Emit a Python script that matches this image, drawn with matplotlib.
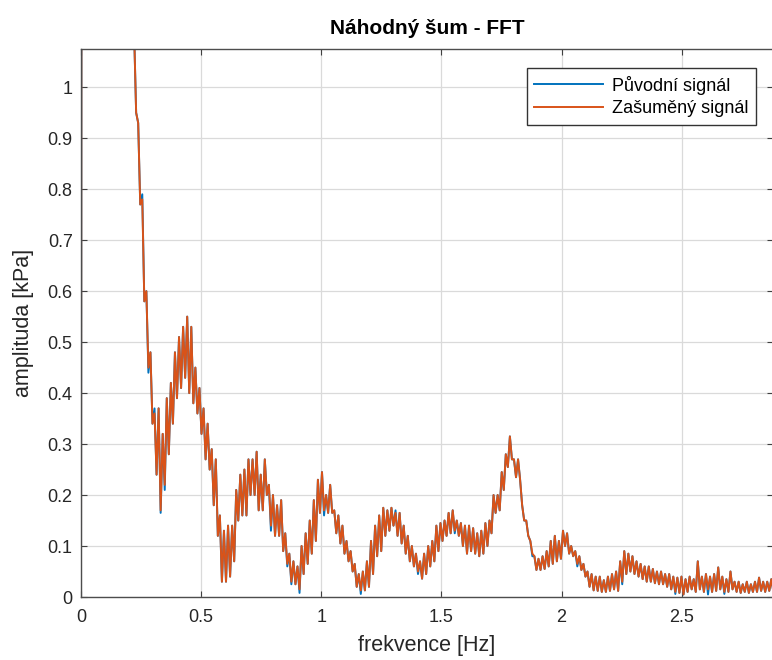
import matplotlib
matplotlib.use("Agg")
import numpy as np
import matplotlib.pyplot as plt


# -------------------------
# Data
# -------------------------
DF = 0.0085  # Hz, spacing of the FFT bins

# noisy signal amplitude [kPa], one value per bin (values above 1.075 are off-chart)
zasumeny = [
    0.0, 6.2, 4.6, 3.9, 3.4, 3.0, 2.7, 2.5, 2.3, 2.15, 2.0, 1.9,
    1.8, 1.72, 1.64, 1.57, 1.5, 1.44, 1.38, 1.33, 1.28, 1.23, 1.19, 1.15,
    1.13, 1.12,
    1.11, 0.95, 0.93, 0.77, 0.78, 0.58, 0.60, 0.45, 0.48, 0.34, 0.36, 0.24,
    0.37, 0.17, 0.32, 0.22, 0.39, 0.28, 0.42, 0.34, 0.48, 0.39, 0.51, 0.41,
    0.53, 0.43, 0.55, 0.40, 0.53, 0.38, 0.45, 0.36, 0.41, 0.32, 0.37, 0.27,
    0.34, 0.25, 0.29, 0.18, 0.27, 0.12, 0.16, 0.03, 0.13, 0.03, 0.14, 0.04,
    0.14, 0.07, 0.21, 0.15, 0.24, 0.16, 0.25, 0.16, 0.27, 0.20, 0.27, 0.20,
    0.285, 0.17, 0.24, 0.17, 0.27, 0.20, 0.22, 0.14, 0.20, 0.12, 0.18, 0.12,
    0.19, 0.09, 0.125, 0.065, 0.085, 0.03, 0.07, 0.025, 0.06, 0.015, 0.10, 0.045,
    0.125, 0.065, 0.15, 0.085, 0.19, 0.11, 0.23, 0.165, 0.245, 0.17, 0.20, 0.165,
    0.22, 0.165, 0.17, 0.125, 0.16, 0.105, 0.14, 0.085, 0.11, 0.07, 0.09, 0.05,
    0.065, 0.02, 0.045, 0.013, 0.05, 0.013, 0.07, 0.02, 0.11, 0.045, 0.14, 0.08,
    0.16, 0.09, 0.175, 0.12, 0.17, 0.13, 0.175, 0.14, 0.165, 0.12, 0.165, 0.105,
    0.14, 0.085, 0.12, 0.07, 0.10, 0.06, 0.085, 0.05, 0.07, 0.036, 0.085, 0.045,
    0.10, 0.06, 0.11, 0.07, 0.14, 0.09, 0.145, 0.11, 0.15, 0.12, 0.165, 0.125,
    0.17, 0.13, 0.15, 0.12, 0.145, 0.10, 0.14, 0.085, 0.14, 0.09, 0.135, 0.085,
    0.125, 0.08, 0.13, 0.085, 0.145, 0.10, 0.15, 0.125, 0.20, 0.165, 0.20, 0.17,
    0.245, 0.21, 0.28, 0.255, 0.315, 0.27, 0.27, 0.235, 0.27, 0.23, 0.18, 0.15,
    0.15, 0.12, 0.11, 0.085, 0.08, 0.053, 0.075, 0.053, 0.08, 0.055, 0.09, 0.06,
    0.11, 0.065, 0.12, 0.07, 0.11, 0.075, 0.13, 0.10, 0.125, 0.085, 0.10, 0.08,
    0.09, 0.065, 0.08, 0.053, 0.065, 0.04, 0.05, 0.02, 0.045, 0.013, 0.04, 0.012,
    0.04, 0.01, 0.033, 0.01, 0.04, 0.012, 0.045, 0.015, 0.05, 0.012, 0.07, 0.03,
    0.09, 0.045, 0.085, 0.05, 0.08, 0.045, 0.07, 0.04, 0.065, 0.035, 0.06, 0.03,
    0.06, 0.03, 0.055, 0.027, 0.05, 0.025, 0.05, 0.025, 0.045, 0.02, 0.045, 0.015,
    0.04, 0.01, 0.038, 0.008, 0.04, 0.005, 0.035, 0.01, 0.04, 0.015, 0.035, 0.01,
    0.07, 0.015, 0.04, 0.01, 0.045, 0.015, 0.04, 0.01, 0.045, 0.012, 0.058, 0.015,
    0.04, 0.01, 0.035, 0.01, 0.05, 0.015, 0.03, 0.01, 0.03, 0.008, 0.025, 0.01,
    0.03, 0.008, 0.025, 0.01, 0.03, 0.01, 0.038, 0.012, 0.03, 0.01, 0.03, 0.012,
    0.035, 0.01, 0.03, 0.015,
]

# original signal amplitude [kPa] (almost hidden under the noisy one)
puvodni = [
    0.0, 6.2, 4.6, 3.9, 3.4, 3.0, 2.7, 2.5, 2.3, 2.15, 2.0, 1.9,
    1.8, 1.72, 1.64, 1.57, 1.5, 1.44, 1.38, 1.33, 1.28, 1.23, 1.19, 1.15,
    1.13, 1.12,
    1.11, 0.95, 0.93, 0.77, 0.79, 0.58, 0.60, 0.44, 0.48, 0.34, 0.37, 0.24,
    0.37, 0.165, 0.32, 0.21, 0.39, 0.28, 0.42, 0.34, 0.48, 0.39, 0.51, 0.41,
    0.53, 0.43, 0.55, 0.40, 0.53, 0.38, 0.45, 0.36, 0.41, 0.32, 0.37, 0.27,
    0.34, 0.25, 0.29, 0.18, 0.27, 0.12, 0.16, 0.03, 0.13, 0.03, 0.14, 0.04,
    0.14, 0.07, 0.21, 0.15, 0.24, 0.16, 0.25, 0.16, 0.27, 0.20, 0.27, 0.20,
    0.285, 0.17, 0.24, 0.17, 0.27, 0.20, 0.22, 0.13, 0.20, 0.12, 0.18, 0.12,
    0.19, 0.09, 0.125, 0.06, 0.085, 0.025, 0.07, 0.025, 0.06, 0.008, 0.10, 0.045,
    0.125, 0.065, 0.15, 0.085, 0.19, 0.11, 0.23, 0.165, 0.245, 0.16, 0.20, 0.165,
    0.22, 0.165, 0.17, 0.125, 0.16, 0.105, 0.14, 0.085, 0.11, 0.07, 0.09, 0.05,
    0.065, 0.02, 0.045, 0.006, 0.05, 0.013, 0.07, 0.02, 0.11, 0.045, 0.14, 0.08,
    0.16, 0.09, 0.175, 0.12, 0.17, 0.13, 0.175, 0.14, 0.17, 0.12, 0.165, 0.105,
    0.14, 0.085, 0.12, 0.07, 0.10, 0.06, 0.085, 0.045, 0.07, 0.036, 0.085, 0.045,
    0.10, 0.06, 0.11, 0.07, 0.14, 0.09, 0.145, 0.11, 0.15, 0.12, 0.165, 0.125,
    0.17, 0.125, 0.15, 0.12, 0.145, 0.10, 0.14, 0.085, 0.14, 0.09, 0.135, 0.085,
    0.125, 0.08, 0.13, 0.085, 0.145, 0.10, 0.15, 0.125, 0.20, 0.165, 0.20, 0.17,
    0.245, 0.21, 0.28, 0.255, 0.315, 0.27, 0.27, 0.235, 0.27, 0.23, 0.18, 0.15,
    0.15, 0.12, 0.11, 0.08, 0.08, 0.053, 0.075, 0.053, 0.08, 0.055, 0.09, 0.06,
    0.11, 0.065, 0.12, 0.07, 0.11, 0.075, 0.13, 0.10, 0.125, 0.085, 0.10, 0.08,
    0.09, 0.06, 0.08, 0.053, 0.065, 0.04, 0.05, 0.02, 0.045, 0.013, 0.04, 0.012,
    0.04, 0.01, 0.033, 0.01, 0.04, 0.012, 0.045, 0.015, 0.05, 0.012, 0.07, 0.025,
    0.09, 0.045, 0.085, 0.05, 0.08, 0.045, 0.07, 0.04, 0.065, 0.035, 0.06, 0.03,
    0.06, 0.03, 0.055, 0.027, 0.05, 0.025, 0.05, 0.025, 0.045, 0.02, 0.045, 0.015,
    0.04, 0.006, 0.038, 0.008, 0.04, 0.005, 0.035, 0.01, 0.04, 0.015, 0.035, 0.01,
    0.07, 0.015, 0.04, 0.01, 0.045, 0.005, 0.04, 0.01, 0.045, 0.012, 0.058, 0.015,
    0.04, 0.006, 0.035, 0.01, 0.05, 0.015, 0.03, 0.01, 0.03, 0.008, 0.025, 0.01,
    0.03, 0.008, 0.025, 0.01, 0.03, 0.01, 0.038, 0.012, 0.03, 0.01, 0.03, 0.012,
    0.035, 0.01, 0.03, 0.015,
]

frekvence = np.arange(len(zasumeny)) * DF

x_ticks = [0, 0.5, 1, 1.5, 2, 2.5]
x_tick_labels = ["0", "0.5", "1", "1.5", "2", "2.5"]
y_ticks = [0, 0.1, 0.2, 0.3, 0.4, 0.5, 0.6, 0.7, 0.8, 0.9, 1]
y_tick_labels = ["0", "0.1", "0.2", "0.3", "0.4", "0.5", "0.6", "0.7", "0.8", "0.9", "1"]


# -------------------------
# Plot
# -------------------------
plt.rcParams["font.family"] = ["Liberation Sans", "DejaVu Sans"]

fig = plt.figure(figsize=(7.72, 6.6), dpi=100)
ax = fig.add_axes([81 / 772, 63 / 660, 692 / 772, 548 / 660])

ax.plot(frekvence, puvodni, color="#0072BD", lw=1.4, label="Původní signál")
ax.plot(frekvence, zasumeny, color="#D95319", lw=1.4, label="Zašuměný signál")

ax.set_xlim(0, 2.88)
ax.set_ylim(0, 1.075)
ax.set_xticks(x_ticks)
ax.set_xticklabels(x_tick_labels)
ax.set_yticks(y_ticks)
ax.set_yticklabels(y_tick_labels)

ax.grid(True, color="#dadada", lw=0.9)
ax.set_axisbelow(True)
ax.tick_params(direction="in", top=True, right=True, length=4, width=0.8,
               labelsize=13, colors="#404040", labelcolor="#262626", pad=6)
ax.tick_params(axis="x", pad=9)
for side in ax.spines.values():
    side.set_color("#4d4d4d")
    side.set_linewidth(1.0)

ax.set_xlabel("frekvence [Hz]", fontsize=15.5, color="#262626", labelpad=6)
ax.set_ylabel("amplituda [kPa]", fontsize=15.5, color="#262626", labelpad=10)
ax.set_title("Náhodný šum - FFT", fontsize=15, fontweight="bold", pad=11)

leg = ax.legend(loc="upper right", bbox_to_anchor=(756 / 772, (660 - 68) / 660),
                bbox_transform=fig.transFigure, borderaxespad=0,
                fancybox=False, framealpha=1, edgecolor="#333333",
                fontsize=13, handlelength=3.8, handletextpad=0.5,
                borderpad=0.42, labelspacing=0.3)
leg.get_frame().set_linewidth(1.0)

fig.savefig("out.png", dpi=100)
plt.close(fig)
